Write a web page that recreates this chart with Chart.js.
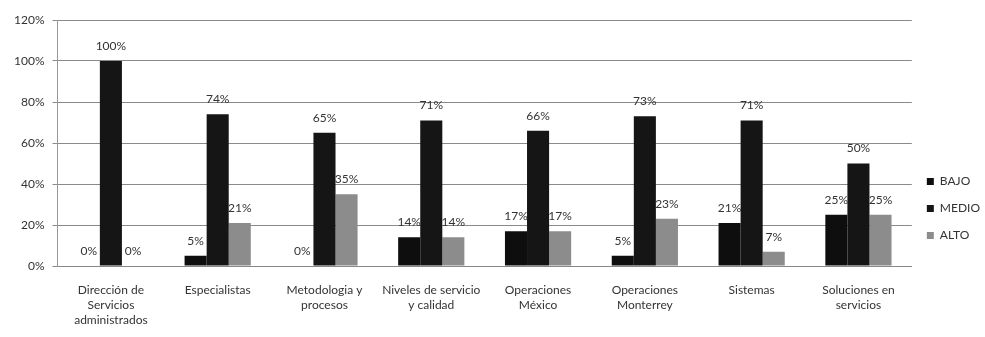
<!DOCTYPE html>
<html>
<head>
<meta charset="utf-8">
<script src="https://cdn.jsdelivr.net/npm/chart.js@4.4.1/dist/chart.umd.min.js"></script>
<style>
  html, body { margin: 0; padding: 0; background: #fff; }
  #wrap { width: 985px; height: 337px; }
</style>
</head>
<body>
<div id="wrap"><canvas id="grafica"></canvas></div>
<script>
const categorias = [
  ['Dirección de', 'Servicios', 'administrados'],
  'Especialistas',
  ['Metodologia y', 'procesos'],
  ['Niveles de servicio', 'y calidad'],
  ['Operaciones', 'México'],
  ['Operaciones', 'Monterrey'],
  'Sistemas',
  ['Soluciones en', 'servicios']
];
const bajo  = [0, 5, 0, 14, 17, 5, 21, 25];
const medio = [100, 74, 65, 71, 66, 73, 71, 50];
const alto  = [0, 21, 35, 14, 17, 23, 7, 25];
const ticksY = [0, 20, 40, 60, 80, 100, 120];

const fuente = { family: 'Lato, "Open Sans", sans-serif', size: 12 };

// etiquetas de valor encima de cada barra
const etiquetas = {
  id: 'etiquetas',
  afterDatasetsDraw(chart) {
    const ctx = chart.ctx;
    ctx.save();
    ctx.font = '12px Lato, "Open Sans", sans-serif';
    ctx.fillStyle = '#333';
    ctx.textAlign = 'center';
    ctx.textBaseline = 'bottom';
    chart.data.datasets.forEach((ds, i) => {
      chart.getDatasetMeta(i).data.forEach((bar, j) => {
        ctx.fillText(ds.data[j] + '%', bar.x, bar.y - 9);
      });
    });
    ctx.restore();
  }
};

new Chart(document.getElementById('grafica'), {
  type: 'bar',
  data: {
    labels: categorias,
    datasets: [
      { label: 'BAJO', data: bajo, backgroundColor: '#0e0e0e' },
      { label: 'MEDIO', data: medio, backgroundColor: '#151515' },
      { label: 'ALTO', data: alto, backgroundColor: '#8c8c8c' }
    ]
  },
  options: {
    responsive: true,
    maintainAspectRatio: false,
    animation: false,
    layout: { padding: { top: 20, left: 6, bottom: 0, right: -5 } },
    datasets: { bar: { barPercentage: 1, categoryPercentage: 0.62 } },
    plugins: {
      tooltip: { enabled: false },
      legend: {
        position: 'right',
        align: 'start',
        title: { display: true, text: ' ', padding: { top: 126, bottom: 0 } },
        labels: {
          boxWidth: 7,
          boxHeight: 7,
          padding: 15,
          color: '#333',
          font: fuente
        }
      }
    },
    scales: {
      x: {
        afterFit(axis) { axis.height = 71; },
        grid: { display: false, drawTicks: false },
        border: { color: '#888' },
        ticks: { color: '#333', font: { ...fuente, lineHeight: 1.25 }, padding: 17, maxRotation: 0, autoSkip: false }
      },
      y: {
        min: 0,
        max: 120,
        afterBuildTicks(axis) { axis.ticks = ticksY.map(v => ({ value: v })); },
        grid: { color: '#8a8a8a', tickLength: 5 },
        border: { color: '#999' },
        ticks: { color: '#333', font: fuente, padding: 8, callback: v => v + '%' }
      }
    }
  },
  plugins: [etiquetas]
});
</script>
</body>
</html>
